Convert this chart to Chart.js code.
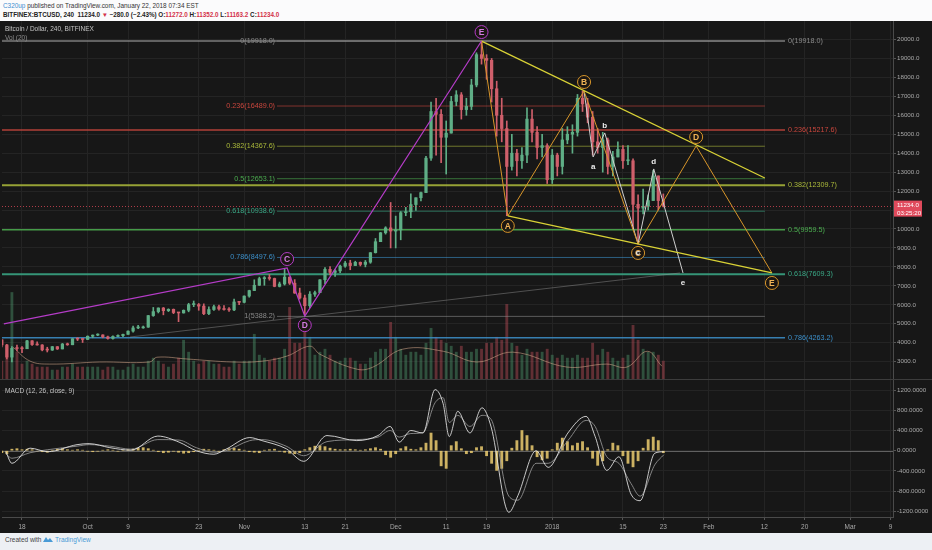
<!DOCTYPE html>
<html>
<head>
<meta charset="utf-8">
<script src="https://cdn.jsdelivr.net/npm/chart.js@4.4.1/dist/chart.umd.min.js"></script>
<style>
html, body { margin: 0; padding: 0; }
body { width: 932px; height: 550px; position: relative; overflow: hidden; background: #edf0f4; font-family: "Liberation Sans", Arial, sans-serif; }
#head { position: absolute; left: 0; top: 0; width: 932px; height: 21px; background: #fbfbfc; }
#l1 { position: absolute; left: 3px; top: 2px; font-size: 6.4px; color: #333; white-space: nowrap; }
#l2 { position: absolute; left: 3px; top: 11px; font-size: 6.3px; font-weight: bold; color: #222; white-space: nowrap; }
.r { color: #d3324a; }
#pricebox { position: absolute; left: 0; top: 21px; width: 932px; height: 358px; background: #171717; }
#macdbox { position: absolute; left: 0; top: 379px; width: 932px; height: 154px; background: #171717; }
.pt { position: absolute; left: 5px; font-size: 6.5px; color: #c4c4c4; white-space: nowrap; z-index: 5; }
.dim { color: #8c8c8c; }
#foot { position: absolute; left: 5px; top: 536px; font-size: 6.5px; color: #444; white-space: nowrap; }
#foot span { color: #4a9bd6; }
</style>
</head>
<body>
<div id="head">
  <div id="l1"><span style="color:#3d8fd1">C320up</span> published on TradingView.com, January 22, 2018 07:34 EST</div>
  <div id="l2">BITFINEX:BTCUSD, 240&nbsp; 11234.0 <span class="r">▼</span> −280.0 (−2.43%) O:<span class="r">11272.0</span> H:<span class="r">11352.0</span> L:<span class="r">11163.2</span> C:<span class="r">11234.0</span></div>
</div>
<div id="pricebox"><canvas id="price"></canvas></div>
<div id="macdbox"><canvas id="macd"></canvas></div>
<div class="pt" style="top:25px">Bitcoin / Dollar, 240, BITFINEX</div>
<div class="pt dim" style="top:34px">Vol (20)</div>
<div class="pt" style="top:387px">MACD (12, 26, close, 9)</div>
<div id="foot">Created with <svg width="10" height="7" viewBox="0 0 10 7" style="vertical-align:-1px"><path d="M0 6 L3 1 L5 4 L7 2 L10 6 Z" fill="#4a9bd6"/></svg> <span>TradingView</span></div>

<script>
// daily candles, Bitfinex BTC/USD, first bar 13 Sep 2017, last 22 Jan 2018
var firstDay = Date.UTC(2017, 8, 13);
var axisZero = Date.UTC(2017, 8, 18);   // "18" tick on the time axis = day 0

var opens = [
  4150,3880,3240,3700,3690,3680,4100,3900,3880,3620,3610,3790,3670,3930,3890,4210,4190,4170,
  4340,4400,4410,4310,4220,4330,4370,4440,4610,4780,4780,4820,5430,5640,5830,5690,5760,5590,5570,5710,6010,6010,5930,5530,5750,5900,5780,5750,5730,6150,6130,
  6460,6750,7030,7380,7400,7390,6970,7100,7460,7140,6620,6360,5950,6560,6640,7320,7870,7710,7790,8040,8200,8070,8240,8130,8250,8750,9330,9800,10060,9890,
  9950,10860,10910,11290,11650,11920,13740,16200,16050,14840,15060,16730,17080,16300,16470,17600,19200,19000,18900,17400,16000,15300,13300,14000,13600,13900,15800,15100,14300,14400,12600,
  13900,13300,14700,15000,15100,16900,16600,15900,14600,14300,14700,13300,13800,14200,13600,13600,11300,11100,11200,11500,12800,11500
];
var highs = [
  4170,3920,3800,3880,3790,4120,4110,4040,3900,3760,3800,3800,3960,3980,4220,4260,4210,4360,
  4410,4470,4420,4350,4360,4420,4460,4620,4880,4920,4880,5440,5860,5840,5860,5790,5780,5600,5730,6080,6200,6070,6050,5890,5980,5990,5960,5850,6300,6170,6470,
  6770,7320,7460,7490,7600,7410,7200,7880,7470,7330,6880,6510,6700,6730,7330,7960,8010,7860,8100,8290,8350,8300,8260,8340,8760,9500,9820,10120,11400,10680,
  10920,11140,11850,11650,11950,13840,16700,16900,16300,15700,17000,17300,17200,16900,17900,19300,19918,19200,19000,17800,16900,15700,15000,14200,14300,16400,16300,15400,15000,14500,14200,
  14000,15300,15400,15500,17100,17282,16900,16200,15300,15100,14800,14100,14600,14400,14400,13700,11800,12100,11800,13100,12800,11850
];
var lows = [
  3780,3150,2980,3560,3480,3680,3850,3870,3570,3510,3590,3640,3670,3860,3890,4110,4010,4160,
  4260,4370,4260,4190,4180,4320,4320,4430,4560,4740,4760,4810,5390,5570,5470,5640,5530,5110,5560,5630,5900,5710,5480,5480,5700,5720,5720,5650,5690,6010,6100,
  6400,6750,7020,7030,7300,6950,6940,7040,7070,6600,6300,5480,5850,6440,6640,7120,7570,7500,7690,7980,7850,8070,8050,8000,8190,8730,9330,9730,9000,9000,
  9430,10700,10600,10980,11480,11920,13620,13900,13500,12900,15060,16500,15800,16000,16300,17500,18700,17900,16700,14900,14600,10700,13100,12800,13200,13500,14600,13700,13800,12400,12400,
  12800,12900,14500,14000,14900,16200,15600,13900,14000,13000,12900,12800,13800,13200,13400,10000,9200,10800,11000,11500,11000,11163
];
var closes = [
  3880,3240,3700,3690,3680,4100,3900,3880,3620,3610,3790,3670,3930,3890,4210,4190,4170,4340,
  4400,4410,4310,4220,4330,4370,4440,4610,4780,4780,4820,5430,5640,5830,5690,5760,5590,5570,5710,6010,6010,5930,5530,5750,5900,5780,5750,5730,6150,6130,6460,
  6750,7030,7380,7400,7390,6970,7100,7460,7140,6620,6360,5950,6560,6640,7320,7870,7710,7790,8040,8200,8070,8240,8130,8250,8750,9330,9800,10060,9890,9950,
  10860,10910,11290,11650,11920,13740,16200,16050,14840,15060,16730,17080,16300,16470,17600,19200,19000,18900,17400,16000,15300,13300,14000,13600,13900,15800,15100,14300,14400,12600,13900,
  13300,14700,15000,15100,16900,16600,15900,14600,14300,14700,13300,13800,14200,13600,13600,11300,11100,11200,11500,12800,11500,11234
];
// volume, thousand BTC
var volumes = [
  6,11,29,9,5,6,5,4,4,4,3,3,4,4,5,4,4,4,
  4,4,3,4,4,3,3,4,5,4,4,6,7,6,5,4,5,7,13,9,6,5,6,6,5,5,4,4,6,5,6,
  6,15,8,7,6,7,7,10,24,12,12,20,14,8,9,10,8,6,6,7,7,6,5,5,7,9,10,10,19,14,
  10,8,9,9,8,12,17,14,13,12,11,9,11,9,9,10,10,12,12,14,13,25,12,11,8,10,9,9,9,10,8,
  7,8,7,7,8,7,7,12,8,10,9,7,6,7,8,18,13,10,9,9,8,6
];
var volMaDays = [-1.8,1.6,5.5,15.4,25.3,26.7,32.7,41.8,47.7,52.5,57,59,66.3,69.5,75.4,83.4,90.1,97.2,107.9,115.8,119.8,123.8,126.7];
var volMaVals = [10.7,6,5,5.7,5.7,7.3,6.7,5.7,6,7.7,11,8.3,3.3,4,10,9.3,5.7,9,4,5,4,9.3,4.3];

// MACD (12, 26, close, 9)
var macdDays = [-3.2,-2.0,1.6,5.1,10.9,13.3,17.4,21.6,26.9,31.1,34.5,38.0,40.4,45.1,47.5,52.3,55.8,60.4,66.3,70.5,72.9,74.7,77.0,79.4,81.8,83.4,84.6,86.3,88.7,91.1,92.9,96.4,98.2,101.8,104.2,108.1,111.7,113.5,115.8,118.2,120.6,122.4,125.3,127.1];
var macdVals = [-20,-250,50,-20,120,140,60,10,290,170,0,-70,30,260,200,40,-210,300,200,300,480,170,400,350,1210,930,280,780,350,850,470,-1220,-890,0,-330,350,680,280,-390,-120,-860,-990,-50,-20];
var signalVals = [-60,-150,-40,20,90,120,90,30,220,210,60,-30,0,200,220,90,-100,180,220,270,400,270,340,360,950,1050,560,700,480,700,620,-900,-980,-250,-250,200,600,480,-120,-250,-650,-900,-280,-80];
var histVals = [
  -40,-60,30,40,20,
  30,20,-10,-20,-30,10,30,40,20,10,
  20,10,-10,-20,-10,10,20,10,-10,10,
  20,30,50,60,40,10,-20,-40,-30,-10,
  -30,-50,-40,-20,10,30,20,10,-20,20,
  40,50,30,10,-20,-30,-40,10,20,30,
  -10,-30,-50,-60,-40,20,60,90,100,80,
  50,30,20,20,30,20,10,20,40,60,
  30,-80,-130,-60,40,80,30,20,60,150,
  350,200,-300,-350,100,180,40,-60,-40,60,
  80,-100,-250,-390,-350,-200,50,200,400,300,
  100,-120,-180,-150,20,150,250,180,100,150,
  180,60,-150,-290,-200,20,150,100,-100,-250,
  -320,-200,50,220,270,200,-40
];

// fibonacci retracements (levels and prices as labelled)
var leftFibLevels = [0, 0.236, 0.382, 0.5, 0.618, 0.786, 1];
var leftFibPrices = [19918.0, 16489.0, 14367.6, 12653.1, 10938.6, 8497.6, 5388.2];
var leftFibFrom = 50.5, leftFibTo = 147.1;
var rightFibLevels = [0, 0.236, 0.382, 0.5, 0.618, 0.786];
var rightFibPrices = [19918.0, 15217.6, 12309.7, 9959.5, 7609.3, 4263.2];
var rightFibFrom = -5, rightFibTo = 151.1;

// wave counts (day, price)
var purpleWaveX = [-3.6, 52.5, 56.0, 91.0];
var purpleWaveY = [4990, 7940, 5400, 19918];
var purpleNames = ['', 'C', 'D', 'E'];
var orangeWaveX = [91.0, 96.2, 111.3, 122.0, 133.5, 148.5];
var orangeWaveY = [19918, 10690, 17282, 9210, 14380, 7680];
var orangeNames = ['', 'A', 'B', 'C', 'D', 'E'];
var subWaveX = [111.3, 113.1, 115.4, 122.0, 125.1, 130.9];
var subWaveY = [17282, 13800, 15070, 9210, 13170, 7680];
var subNames = ['', 'a', 'b', 'c', 'd', 'e'];
var upperTrendX = [91.0, 147.1], upperTrendY = [19918, 12690];
var lowerTrendX = [96.2, 148.5], lowerTrendY = [10690, 7680];
var greyTrendX = [21.4, 130.3], greyTrendY = [4300, 7680];

var lastPrice = 11234.0;
var countdown = '03:25:20';

// axes
var priceTicks = [20000,19000,18000,17000,16000,15000,14000,13000,12000,11000,10000,9000,8000,7000,6000,5000,4000,3000];
var macdTicks = [1200, 800, 400, 0, -400, -800, -1200];
var tickDays = [0,13,21,35,44,56,64,74,84,92,105,119,127,136,147,155,164,172];
var tickLabels = ['18','Oct','9','23','Nov','13','21','Dec','11','19','2018','15','23','Feb','12','20','Mar','9'];

var UP = '#5fae86', DOWN = '#cf5f6b';
var fibColor = { '0': '#8a8a8a', '0.236': '#c9463d', '0.382': '#aab83a', '0.5': '#4caf50', '0.618': '#3aa886', '0.786': '#3c8fc9', '1': '#8a8a8a' };

Chart.defaults.font.family = '"Liberation Sans", Arial, sans-serif';
Chart.defaults.animation = false;

var X_MIN = -3.96, X_MAX = 172.48;

// candle centre sits one day after the date's midnight on this chart (EST session)
var cx = closes.map(function (c, i) { return (firstDay + i * 864e5 - axisZero) / 864e5 + 1; });
var isUp = closes.map(function (c, i) { return c >= opens[i]; });

function pts(xs, ys) { return xs.map(function (v, i) { return { x: v, y: ys[i] }; }); }
function lineSet(data, color, width, order, extra) {
  var d = { type: 'line', data: data, borderColor: color, borderWidth: width, pointRadius: 0, fill: false, order: order, tension: 0 };
  for (var k in extra) d[k] = extra[k];
  return d;
}
function noPad(w, h) {
  return function (s) {
    if (w !== null) s.width = w;
    if (h !== null) s.height = h;
    s.paddingTop = 0; s.paddingBottom = 0; s.paddingLeft = 0; s.paddingRight = 0;
  };
}
function setTicks(list) { return function (s) { s.ticks = list.map(function (v) { return { value: v }; }); }; }

var datasets = [];
datasets.push({ type: 'bar', yAxisID: 'yv', order: 6, grouped: false, barThickness: 2.2,
  data: volumes.map(function (v, i) { return { x: cx[i], y: v }; }),
  backgroundColor: isUp.map(function (u) { return u ? 'rgba(80,160,115,0.42)' : 'rgba(200,80,92,0.42)'; }) });
datasets.push(lineSet(pts(volMaDays, volMaVals), 'rgba(215,170,140,0.55)', 1, 5, { yAxisID: 'yv', tension: 0.4 }));

leftFibLevels.forEach(function (lv, i) {
  datasets.push(lineSet([{ x: leftFibFrom, y: leftFibPrices[i] }, { x: leftFibTo, y: leftFibPrices[i] }],
    fibColor[String(lv)] + '99', 1, 4, {}));
});
rightFibLevels.forEach(function (lv, i) {
  datasets.push(lineSet([{ x: rightFibFrom, y: rightFibPrices[i] }, { x: rightFibTo, y: rightFibPrices[i] }],
    fibColor[String(lv)] + 'dd', lv === 0.382 || lv === 0.618 ? 2 : 1.5, 4, {}));
});
datasets.push(lineSet(pts(greyTrendX, greyTrendY), 'rgba(150,150,150,0.45)', 1, 3, {}));

datasets.push({ type: 'bar', order: 2, grouped: false, barThickness: 1,
  data: closes.map(function (c, i) { return { x: cx[i], y: [lows[i], highs[i]] }; }),
  backgroundColor: isUp.map(function (u) { return u ? UP : DOWN; }) });
datasets.push({ type: 'bar', order: 1, grouped: false, barThickness: 2.6, minBarLength: 1,
  data: closes.map(function (c, i) { return { x: cx[i], y: [opens[i], c] }; }),
  backgroundColor: isUp.map(function (u) { return u ? UP : DOWN; }) });

datasets.push(lineSet(pts(purpleWaveX, purpleWaveY), '#b53cc8', 1.2, 0, {}));
datasets.push(lineSet(pts(upperTrendX, upperTrendY), '#d9d236', 1.3, 0, {}));
datasets.push(lineSet(pts(lowerTrendX, lowerTrendY), '#d9d236', 1.3, 0, {}));
datasets.push(lineSet(pts(orangeWaveX, orangeWaveY), '#d8962a', 1, 0, {}));
datasets.push(lineSet(pts(subWaveX, subWaveY), '#cfcfcf', 1, 0, {}));

function ring(ctx, px, py, txt, stroke, txtColor) {
  ctx.beginPath();
  ctx.arc(px, py, 6.5, 0, Math.PI * 2);
  ctx.fillStyle = 'rgba(28,22,18,0.9)';
  ctx.fill();
  ctx.lineWidth = 1;
  ctx.strokeStyle = stroke;
  ctx.stroke();
  ctx.fillStyle = txtColor;
  ctx.font = 'bold 8.5px "Liberation Sans"';
  ctx.textAlign = 'center';
  ctx.textBaseline = 'middle';
  ctx.fillText(txt, px, py + 0.5);
}

var priceOverlay = {
  id: 'priceOverlay',
  afterDatasetsDraw: function (chart) {
    var ctx = chart.ctx, a = chart.chartArea, x = chart.scales.x, y = chart.scales.y;
    ctx.save();
    var ly = Math.round(y.getPixelForValue(lastPrice)) + 0.5;
    ctx.setLineDash([1, 2]);
    ctx.strokeStyle = 'rgba(224,74,90,0.75)';
    ctx.lineWidth = 1;
    ctx.beginPath(); ctx.moveTo(a.left, ly); ctx.lineTo(a.right, ly); ctx.stroke();
    ctx.setLineDash([]);

    ctx.font = '7.2px "Liberation Sans"';
    ctx.textBaseline = 'middle';
    ctx.textAlign = 'right';
    leftFibLevels.forEach(function (lv, i) {
      ctx.fillStyle = fibColor[String(lv)];
      ctx.fillText(lv + '(' + leftFibPrices[i].toFixed(1) + ')', x.getPixelForValue(leftFibFrom) - 2, y.getPixelForValue(leftFibPrices[i]));
    });
    ctx.textAlign = 'left';
    rightFibLevels.forEach(function (lv, i) {
      ctx.fillStyle = fibColor[String(lv)];
      ctx.fillText(lv + '(' + rightFibPrices[i].toFixed(1) + ')', x.getPixelForValue(rightFibTo) + 3, y.getPixelForValue(rightFibPrices[i]));
    });

    var purpleDy = [0, -9, 9, -9], orangeDy = [0, 10, -9, 9, -9, 10], subDy = [0, 10, -7, 9, -7, 10];
    purpleNames.forEach(function (n, i) {
      if (n) ring(ctx, x.getPixelForValue(purpleWaveX[i]), y.getPixelForValue(purpleWaveY[i]) + purpleDy[i], n, '#b53cc8', '#d27be0');
    });
    orangeNames.forEach(function (n, i) {
      if (n) ring(ctx, x.getPixelForValue(orangeWaveX[i]), y.getPixelForValue(orangeWaveY[i]) + orangeDy[i], n, '#d8962a', '#f0b456');
    });
    ctx.font = 'bold 8px "Liberation Sans"';
    ctx.textAlign = 'center';
    ctx.fillStyle = '#ececec';
    subNames.forEach(function (n, i) {
      if (n) ctx.fillText(n, x.getPixelForValue(subWaveX[i]), y.getPixelForValue(subWaveY[i]) + subDy[i]);
    });
    ctx.restore();
  },
  afterDraw: function (chart) {
    var ctx = chart.ctx, a = chart.chartArea, y = chart.scales.y;
    var py = y.getPixelForValue(lastPrice);
    ctx.save();
    ctx.fillStyle = '#e04a5c';
    ctx.fillRect(a.right + 1, py - 5, 28, 16);
    ctx.fillStyle = '#fff';
    ctx.font = '6.2px "Liberation Sans"';
    ctx.textAlign = 'left';
    ctx.textBaseline = 'middle';
    ctx.fillText(lastPrice.toFixed(1), a.right + 4, py);
    ctx.fillText(countdown, a.right + 4, py + 7.5);
    ctx.restore();
  }
};

new Chart(document.getElementById('price'), {
  type: 'bar',
  data: { datasets: datasets },
  options: {
    responsive: true, maintainAspectRatio: false,
    layout: { padding: { left: 2, right: 0, top: 0, bottom: 0 } },
    plugins: { legend: { display: false }, tooltip: { enabled: false } },
    scales: {
      x: {
        type: 'linear', min: X_MIN, max: X_MAX, offset: false,
        grid: { color: '#242424', offset: false, drawTicks: false },
        border: { display: false },
        ticks: { display: false },
        afterBuildTicks: setTicks(tickDays),
        afterFit: noPad(null, 0)
      },
      y: {
        type: 'linear', position: 'right', min: 2084, max: 20976,
        grid: { color: '#242424', tickLength: 3, tickColor: '#555' },
        border: { color: '#4a4a4a' },
        ticks: { color: '#a8a8a8', font: { size: 6.2 }, padding: 1, callback: function (v) { return v.toFixed(1); } },
        afterBuildTicks: setTicks(priceTicks),
        afterFit: noPad(39, null)
      },
      yv: { type: 'linear', display: false, min: 0, max: 120 }
    }
  },
  plugins: [priceOverlay]
});

var macdOverlay = {
  id: 'macdOverlay',
  beforeDatasetsDraw: function (chart) {
    var ctx = chart.ctx, a = chart.chartArea, y = chart.scales.y;
    var zy = Math.round(y.getPixelForValue(0)) + 0.5;
    ctx.save();
    ctx.strokeStyle = 'rgba(130,130,130,0.7)';
    ctx.lineWidth = 1;
    ctx.beginPath(); ctx.moveTo(a.left, zy); ctx.lineTo(a.right, zy); ctx.stroke();
    ctx.strokeStyle = '#3c3c3c';
    ctx.beginPath(); ctx.moveTo(0, 0.5); ctx.lineTo(chart.width, 0.5); ctx.stroke();
    ctx.restore();
  }
};

new Chart(document.getElementById('macd'), {
  type: 'bar',
  data: {
    datasets: [
      lineSet(pts(macdDays, macdVals), 'rgba(232,232,232,0.85)', 1, 0, { cubicInterpolationMode: 'monotone' }),
      lineSet(pts(macdDays, signalVals), 'rgba(150,150,150,0.85)', 1, 1, { cubicInterpolationMode: 'monotone' }),
      { type: 'bar', order: 2, barThickness: 2.2, grouped: false,
        data: histVals.map(function (v, i) { return { x: cx[i], y: v }; }),
        backgroundColor: 'rgba(236,204,112,0.85)' }
    ]
  },
  options: {
    responsive: true, maintainAspectRatio: false,
    layout: { padding: { left: 2, right: 0, top: 0, bottom: 0 } },
    plugins: { legend: { display: false }, tooltip: { enabled: false } },
    scales: {
      x: {
        type: 'linear', min: X_MIN, max: X_MAX, offset: false,
        grid: { color: '#242424', offset: false, tickLength: 3, tickColor: '#555' },
        border: { color: '#4a4a4a' },
        ticks: { color: '#a8a8a8', font: { size: 6.5 }, padding: 3, autoSkip: false, maxRotation: 0,
          callback: function (v) { var k = tickDays.indexOf(v); return k < 0 ? '' : tickLabels[k]; } },
        afterBuildTicks: setTicks(tickDays),
        afterFit: noPad(null, 16)
      },
      y: {
        type: 'linear', position: 'right', min: -1313, max: 1420,
        grid: { color: '#242424', tickLength: 3, tickColor: '#555' },
        border: { color: '#4a4a4a' },
        ticks: { color: '#a8a8a8', font: { size: 6.2 }, padding: 1, callback: function (v) { return v.toFixed(4); } },
        afterBuildTicks: setTicks(macdTicks),
        afterFit: noPad(39, null)
      }
    }
  },
  plugins: [macdOverlay]
});
</script>
</body>
</html>
